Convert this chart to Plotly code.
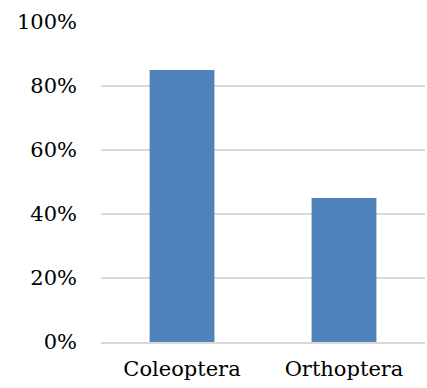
import plotly.graph_objects as go

categories = ["Coleoptera", "Orthoptera"]
shares = [0.85, 0.45]
y_ticks = [0, 0.2, 0.4, 0.6, 0.8, 1.0]
y_tick_labels = ["0%", "20%", "40%", "60%", "80%", "100%"]

fig = go.Figure(
    go.Bar(
        x=categories,
        y=shares,
        marker=dict(color="#4F81BD", line=dict(width=0)),
        width=0.4,
    )
)

fig.update_layout(
    width=427,
    height=388,
    margin=dict(l=101, r=2, t=22, b=46),
    paper_bgcolor="white",
    plot_bgcolor="white",
    showlegend=False,
    font=dict(family="DejaVu Serif", size=21, color="#000000"),
)

fig.update_xaxes(
    showgrid=False,
    showline=True,
    linecolor="#D9D9D9",
    linewidth=1.5,
    ticks="",
    ticklabelstandoff=7,
)

fig.update_yaxes(
    range=[0, 1.0],
    tickvals=y_ticks,
    ticktext=y_tick_labels,
    showgrid=True,
    gridcolor="#D9D9D9",
    gridwidth=1.5,
    zeroline=False,
    showline=False,
    ticks="",
    ticklabelstandoff=23,
)

fig.write_html("out.html")
